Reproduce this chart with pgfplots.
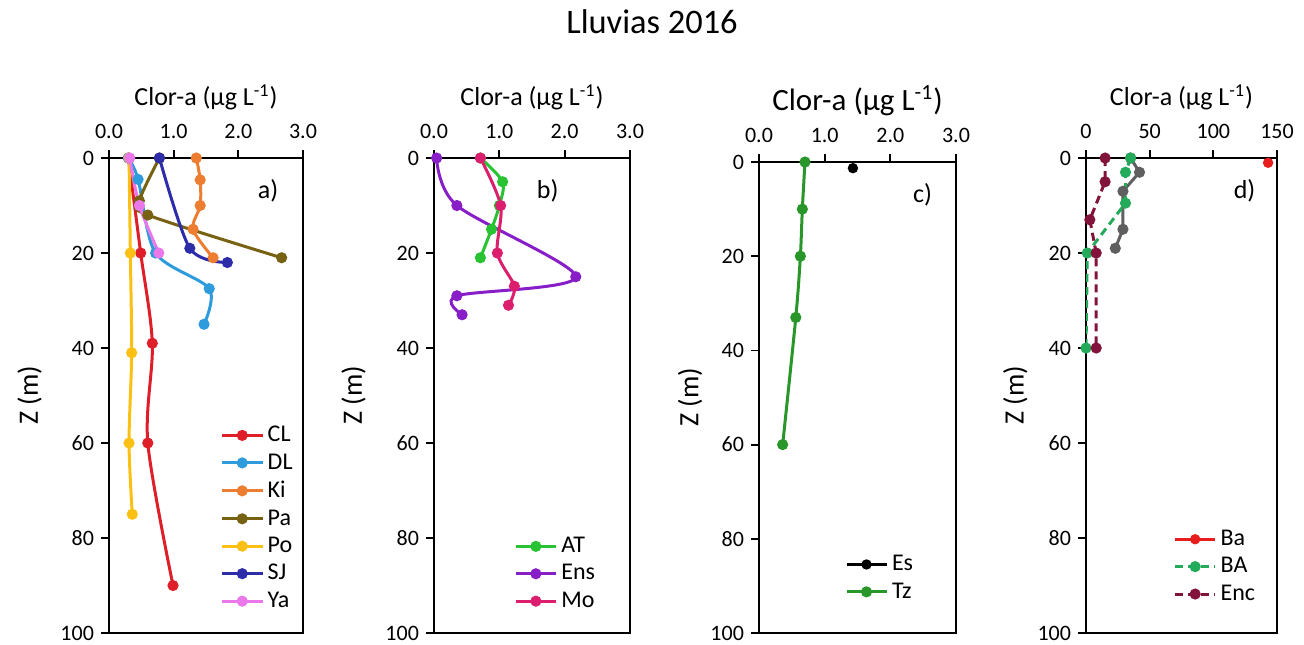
\documentclass[border=0pt]{standalone}
\usepackage{pgfplots}
\pgfplotsset{compat=1.18}
\usepackage{fontspec}
\setmainfont{Carlito}
\definecolor{cCL}{RGB}{222,30,40}
\definecolor{cDL}{RGB}{45,155,220}
\definecolor{cKi}{RGB}{237,125,49}
\definecolor{cPa}{RGB}{118,98,18}
\definecolor{cPo}{RGB}{250,192,20}
\definecolor{cSJ}{RGB}{45,45,170}
\definecolor{cYa}{RGB}{235,120,235}
\definecolor{cAT}{RGB}{40,195,50}
\definecolor{cEns}{RGB}{135,30,200}
\definecolor{cMo}{RGB}{220,30,110}
\definecolor{cTz}{RGB}{40,150,40}
\definecolor{cBa}{RGB}{230,30,30}
\definecolor{cBA}{RGB}{35,170,90}
\definecolor{cEnc}{RGB}{130,20,60}
\definecolor{cGr}{RGB}{95,95,95}
\pgfplotsset{
  panel/.style={
    scale only axis, width=97pt, height=237.5pt,
    y dir=reverse, ymin=0, ymax=100, ytick={0,20,40,60,80,100},
    xmin=0, xmax=3, xtick={0,1,2,3},
    axis line style={black, line width=0.9pt},
    tick style={black, line width=0.9pt},
    major tick length=4pt, tick align=outside,
    xtick pos=right, ytick pos=left,
    xticklabel pos=right,
    ticklabel style={font=\fontsize{11}{13}\selectfont},
    /pgf/number format/assume math mode=true,
    xticklabel style={yshift=2pt, /pgf/number format/.cd, fixed, fixed zerofill, precision=1},
    xlabel={Clor-a (µg L\textsuperscript{-1})},
    xlabel style={font=\fontsize{13}{15}\selectfont, at={(axis description cs:0.5,1.128)}, anchor=center},
    ylabel={Z (m)},
    ylabel style={font=\fontsize{14}{16}\selectfont, at={(axis description cs:-0.41,0.5)}, anchor=center},
    legend style={at={(axis description cs:1.0,0.03)}, anchor=south east, draw=none, fill=none,
      font=\fontsize{12}{13}\selectfont, row sep=0.5pt},
    legend cell align=left,
    legend image code/.code={\draw[mark repeat=2,mark phase=2,#1] plot coordinates {(0pt,0pt)(10pt,0pt)(20pt,0pt)};},
    every axis plot/.append style={line width=1.5pt, mark=*, mark size=2pt},
  },
  sm/.style={smooth, tension=0.5},
}
\begin{document}
\begin{tikzpicture}
\useasboundingbox (0,0) rectangle (652pt,-322pt);
\node at (326pt,-11pt) {\fontsize{17.2}{20}\selectfont Lluvias 2016};
% panel a
\begin{axis}[panel, at={(54.5pt,-79pt)}, anchor=north west]
\addplot[cCL, sm] coordinates {(0.30,0)(0.49,20)(0.67,39)(0.60,60)(0.99,90)};
\addlegendentry{CL}
\addplot[cDL, sm] coordinates {(0.30,0)(0.45,4.5)(0.72,20)(1.55,27.5)(1.47,35)};
\addlegendentry{DL}
\addplot[cKi, sm] coordinates {(1.35,0)(1.41,4.6)(1.41,10)(1.30,15)(1.61,21)};
\addlegendentry{Ki}
\addplot[cPa, sm] coordinates {(0.78,0)(0.47,9)(0.60,12)(2.67,21)};
\addlegendentry{Pa}
\addplot[cPo, sm] coordinates {(0.31,0)(0.33,20)(0.35,41)(0.31,60)(0.36,75)};
\addlegendentry{Po}
\addplot[cSJ, sm] coordinates {(0.78,0)(1.25,19)(1.83,22)};
\addlegendentry{SJ}
\addplot[cYa, sm] coordinates {(0.32,0)(0.47,10)(0.77,20)};
\addlegendentry{Ya}
\node[font=\fontsize{13}{15}\selectfont] at (axis description cs:0.82,0.93) {a)};
\end{axis}
% panel b
\begin{axis}[panel, at={(217pt,-79pt)}, anchor=north west, width=98pt,
  legend style={at={(axis description cs:0.875,0.03)}}]
\addplot[cAT, sm] coordinates {(0.71,0)(1.05,5)(1.00,10)(0.88,15)(0.71,21)};
\addlegendentry{AT}
\addplot[cEns, sm] coordinates {(0.04,0)(0.35,10)(2.17,25)(0.35,29)(0.43,33)};
\addlegendentry{Ens}
\addplot[cMo, sm] coordinates {(0.71,0)(1.02,10)(0.97,20)(1.23,27)(1.14,31)};
\addlegendentry{Mo}
\node[font=\fontsize{13}{15}\selectfont] at (axis description cs:0.58,0.93) {b)};
\end{axis}
% panel c
\begin{axis}[panel, at={(379.5pt,-81pt)}, anchor=north west, width=98.5pt, height=235.5pt,
  xlabel style={font=\fontsize{15.5}{17}\selectfont, at={(axis description cs:0.5,1.13)}},
  ylabel style={at={(axis description cs:-0.35,0.5)}},
  legend style={at={(axis description cs:0.835,0.05)}}]
\addplot[black, mark size=1.8pt] coordinates {(1.43,1.3)};
\addlegendentry{Es}
\addplot[cTz, sm] coordinates {(0.70,0)(0.66,10)(0.63,20)(0.56,33)(0.36,60)};
\addlegendentry{Tz}
\node[font=\fontsize{13}{15}\selectfont] at (axis description cs:0.83,0.93) {c)};
\end{axis}
% panel d
\begin{axis}[panel, at={(543pt,-79pt)}, anchor=north west, width=95.5pt,
  xmin=0, xmax=150, xtick={0,50,100,150},
  xticklabel style={/pgf/number format/.cd, fixed, precision=0},
  ylabel style={at={(axis description cs:-0.37,0.5)}},
  legend style={at={(axis description cs:0.94,0.045)}},
  every axis plot/.append style={line width=1.5pt, mark=*, mark size=2pt, mark options={solid}}]
\addplot[cGr, forget plot] coordinates {(35,0)(42,3)(29,7)(29,15)(23,19)};
\addplot[cBa, mark size=1.8pt] coordinates {(143,1)};
\addlegendentry{Ba}
\addplot[cBA, dash pattern=on 4pt off 2.5pt] coordinates {(35,0)(31,3)(31,9.5)(1,20)(0,40)};
\addlegendentry{BA}
\addplot[cEnc, dash pattern=on 4pt off 2.5pt] coordinates {(15,0)(15,5)(3,13)(8,20)(8,40)};
\addlegendentry{Enc}
\node[font=\fontsize{13}{15}\selectfont] at (axis description cs:0.83,0.93) {d)};
\end{axis}
\end{tikzpicture}
\end{document}
